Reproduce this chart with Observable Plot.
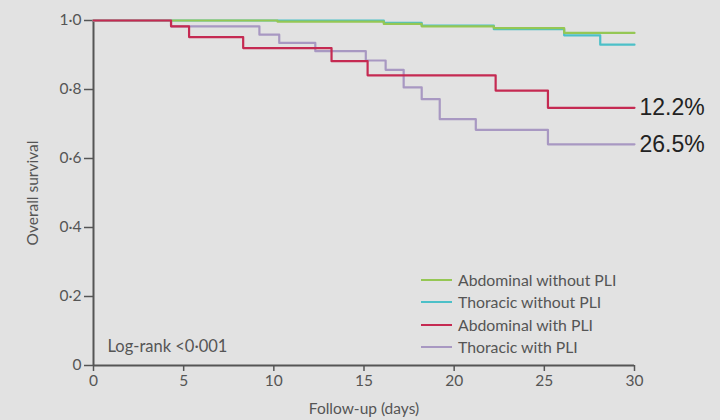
<!DOCTYPE html>
<html>
<head>
<meta charset="utf-8">
<script src="https://cdn.jsdelivr.net/npm/d3@7"></script>
<script src="https://cdn.jsdelivr.net/npm/@observablehq/plot@0.6"></script>
<style>
  html, body { margin: 0; padding: 0; background: #e2e2e2; }
  #wrap { position: relative; width: 720px; height: 420px; overflow: hidden; }
  #legend { position: absolute; left: 421px; top: 269px; font-family: Lato, "Noto Sans", sans-serif; font-size: 15.8px; color: #555; line-height: 22.3px; }
  #legend .row { display: flex; align-items: center; white-space: nowrap; }
  #legend .sw { width: 31px; height: 2px; margin-right: 6px; }
</style>
</head>
<body>
<div id="wrap"></div>
<script>
// Groups and colours
const groups = ["Abdominal without PLI", "Thoracic without PLI", "Abdominal with PLI", "Thoracic with PLI"];
const groupColors = ["#95c754", "#4cc0c8", "#c52a52", "#a898c2"];
// order in which the curves are drawn (later on top)
const drawOrder = ["Thoracic without PLI", "Abdominal without PLI", "Thoracic with PLI", "Abdominal with PLI"];

// Kaplan–Meier step points (days, survival)
const abdNoPliDays = [0, 10.2, 16.1, 18.2, 22.2, 26.1, 30];
const abdNoPliSurv = [1.0, 0.997, 0.990, 0.983, 0.978, 0.964, 0.964];

const thorNoPliDays = [0, 16.1, 18.2, 22.2, 26.1, 28.1, 30];
const thorNoPliSurv = [1.0, 0.993, 0.985, 0.975, 0.957, 0.930, 0.930];

const abdPliDays = [0, 4.3, 5.3, 8.3, 13.2, 15.2, 22.3, 25.2, 30];
const abdPliSurv = [1.0, 0.983, 0.952, 0.920, 0.882, 0.841, 0.797, 0.747, 0.747];

const thorPliDays = [0, 4.3, 9.2, 10.3, 12.3, 15.1, 16.2, 17.2, 18.2, 19.2, 21.2, 25.2, 30];
const thorPliSurv = [1.0, 0.983, 0.959, 0.935, 0.911, 0.884, 0.857, 0.806, 0.772, 0.714, 0.683, 0.641, 0.641];

// End labels
const endLabelGroups = ["Abdominal with PLI", "Thoracic with PLI"];
const endLabels = ["12.2%", "26.5%"];

// Axis ticks
const xTicks = [0, 5, 10, 15, 20, 25, 30];
const yTicks = [0, 0.2, 0.4, 0.6, 0.8, 1.0];
const yTickLabels = ["0", "0·2", "0·4", "0·6", "0·8", "1·0"];
const logRankText = "Log-rank <0·001";

const seriesDays = [abdNoPliDays, thorNoPliDays, abdPliDays, thorPliDays];
const seriesSurv = [abdNoPliSurv, thorNoPliSurv, abdPliSurv, thorPliSurv];
const rows = [];
drawOrder.forEach(g => {
  const i = groups.indexOf(g);
  seriesDays[i].forEach((d, j) => rows.push({group: g, day: d, surv: seriesSurv[i][j]}));
});
const ends = endLabelGroups.map((g, i) => {
  const k = groups.indexOf(g);
  const n = seriesDays[k].length - 1;
  return {group: g, day: seriesDays[k][n], surv: seriesSurv[k][n], label: endLabels[i]};
});

const font = 'Lato, "Noto Sans", sans-serif';
const chart = Plot.plot({
  width: 720,
  height: 420,
  marginLeft: 93,
  marginRight: 86,
  marginTop: 20,
  marginBottom: 55,
  style: {background: "#e2e2e2", color: "#555", fontFamily: font, fontSize: "15px", overflow: "visible"},
  x: {domain: [0, 30]},
  y: {domain: [0, 1]},
  color: {domain: groups, range: groupColors},
  marks: [
    Plot.axisX({ticks: xTicks, tickSize: 6, tickPadding: 3, fontSize: 15.5, color: "#555", strokeWidth: 1.5,
      label: "Follow-up (days)", labelAnchor: "center", labelArrow: "none", labelOffset: 48}),
    Plot.axisY({ticks: yTicks, tickFormat: d => yTickLabels[yTicks.indexOf(d)], tickSize: 9, tickPadding: 3, color: "#555", strokeWidth: 1.5,
      label: "Overall survival", labelAnchor: "center", labelArrow: "none", labelOffset: 67, fontSize: 15.5}),
    Plot.ruleX([0], {stroke: "#555", strokeWidth: 2}),
    Plot.ruleY([0], {stroke: "#555", strokeWidth: 2}),
    Plot.line(rows, {x: "day", y: "surv", z: "group", stroke: "group", curve: "step-after", strokeWidth: 2.2}),
    Plot.text(ends, {x: "day", y: "surv", text: "label", textAnchor: "start", dx: 5, fontSize: 23, fill: "#222", fontFamily: "Liberation Sans, Arial, sans-serif"}),
    Plot.text([logRankText], {frameAnchor: "bottom-left", dx: 14, dy: -14, fontSize: 16.5, fill: "#555"})
  ]
});
const wrap = document.getElementById("wrap");
wrap.appendChild(chart);

const legend = document.createElement("div");
legend.id = "legend";
groups.forEach((g, i) => {
  const r = document.createElement("div");
  r.className = "row";
  r.innerHTML = `<span class="sw" style="background:${groupColors[i]}"></span><span>${g}</span>`;
  legend.appendChild(r);
});
wrap.appendChild(legend);
</script>
</body>
</html>
